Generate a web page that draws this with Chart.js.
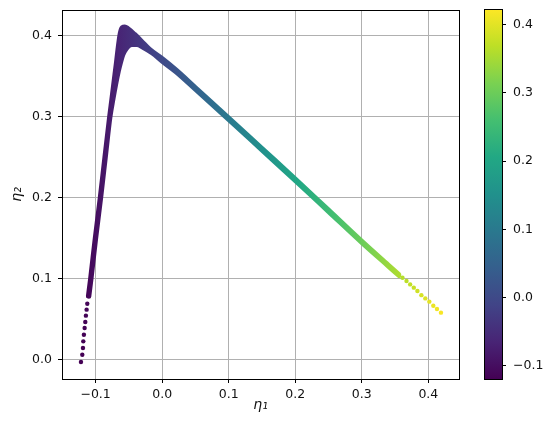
<!DOCTYPE html>
<html>
<head>
<meta charset="utf-8">
<script src="https://cdn.jsdelivr.net/npm/chart.js@4.4.1/dist/chart.umd.min.js"></script>
<style>
  html, body { margin: 0; padding: 0; background: #fff; }
  #wrap { position: relative; width: 555px; height: 433px; }
  #main { position: absolute; left: 0; top: 0; }
  #cbar { position: absolute; left: 484px; top: 0; }
</style>
</head>
<body>
<div id="wrap">
  <canvas id="main" width="555" height="433"></canvas>
  <canvas id="cbar" width="71" height="433"></canvas>
</div>
<script>
// tick labels
const xTicks = [-0.1, 0.0, 0.1, 0.2, 0.3, 0.4];
const yTicks = [0.0, 0.1, 0.2, 0.3, 0.4];
const cbTicks = [-0.1, 0.0, 0.1, 0.2, 0.3, 0.4];

// colour range of the colorbar (eta1)
const cbMin = -0.1195;
const cbMax = 0.423;

// outer edge of the dense point cloud (eta1, eta2)
const upperX = [-0.1113, -0.108, -0.101, -0.0935, -0.0865, -0.0794, -0.0760, -0.0725, -0.0690, -0.0658, -0.0632, -0.0602, -0.0560, -0.0515, -0.0415, -0.0315, -0.0190, 0.000, 0.021, 0.050, 0.100, 0.150, 0.200, 0.250, 0.300, 0.340, 0.356];
const upperY = [0.0785, 0.100, 0.150, 0.200, 0.250, 0.300, 0.322, 0.345, 0.368, 0.390, 0.404, 0.4105, 0.4115, 0.4095, 0.4025, 0.3945, 0.3840, 0.3725, 0.3584, 0.3367, 0.2993, 0.2616, 0.2240, 0.1855, 0.1470, 0.1174, 0.1056];

// inner edge of the dense point cloud
const lowerX = [-0.1098, -0.1065, -0.0995, -0.0920, -0.0850, -0.0780, -0.0735, -0.0695, -0.0655, -0.0622, -0.0588, -0.0535, -0.0460, -0.0380, -0.0290, -0.0150, 0.000, 0.021, 0.050, 0.100, 0.150, 0.200, 0.250, 0.300, 0.340, 0.356];
const lowerY = [0.0785, 0.100, 0.150, 0.200, 0.250, 0.300, 0.322, 0.340, 0.356, 0.367, 0.3765, 0.3845, 0.3890, 0.3892, 0.3858, 0.3787, 0.3685, 0.3552, 0.3337, 0.2965, 0.2588, 0.2212, 0.1829, 0.1446, 0.1154, 0.1038];

// single points where the cloud thins out at both ends
const dotX = [-0.1220, -0.1200, -0.1190, -0.1185, -0.1176, -0.1165, -0.1155, -0.1146, -0.1135, -0.1125, 0.3612, 0.3672, 0.3727, 0.3782, 0.3836, 0.3896, 0.3955, 0.4015, 0.4075, 0.4130, 0.4190];
const dotY = [-0.0025, 0.0065, 0.0148, 0.0230, 0.0312, 0.0395, 0.0469, 0.0547, 0.0621, 0.0695, 0.1016, 0.0975, 0.0933, 0.0893, 0.0852, 0.0800, 0.0760, 0.0720, 0.0670, 0.0630, 0.0584];

// viridis
const viridis = ['#440154', '#482475', '#414487', '#355f8d', '#2a788e', '#21918c', '#22a884', '#44bf70', '#7ad151', '#bddf26', '#fde725'];

const FONT = 'DejaVu Sans';
const fmt = v => (v < 0 ? '\u2212' : '') + Math.abs(v).toFixed(1);

function hexRgb(h) {
  return [parseInt(h.slice(1, 3), 16), parseInt(h.slice(3, 5), 16), parseInt(h.slice(5, 7), 16)];
}
function viridisAt(v) {
  let t = (v - cbMin) / (cbMax - cbMin);
  t = Math.max(0, Math.min(1, t)) * (viridis.length - 1);
  const i = Math.min(Math.floor(t), viridis.length - 2);
  const f = t - i;
  const a = hexRgb(viridis[i]), b = hexRgb(viridis[i + 1]);
  const c = a.map((x, k) => Math.round(x + (b[k] - x) * f));
  return 'rgb(' + c.join(',') + ')';
}
function viridisGradient(chart, axis) {
  if (!chart.chartArea || !chart.scales[axis]) return viridis[0];
  const s = chart.scales[axis];
  const p0 = s.getPixelForValue(cbMin), p1 = s.getPixelForValue(cbMax);
  const g = axis === 'x'
    ? chart.ctx.createLinearGradient(p0, 0, p1, 0)
    : chart.ctx.createLinearGradient(0, p0, 0, p1);
  viridis.forEach((c, i) => g.addColorStop(i / (viridis.length - 1), c));
  return g;
}

const toPts = (xs, ys) => xs.map((x, i) => ({x: x, y: ys[i]}));

// matplotlib-like frame on all four sides
const boxPlugin = {
  id: 'frame',
  afterDraw(chart) {
    const a = chart.chartArea, ctx = chart.ctx;
    const l = Math.round(a.left), r = Math.round(a.right), t = Math.round(a.top), b = Math.round(a.bottom);
    ctx.save();
    ctx.fillStyle = '#000';
    ctx.fillRect(l, t, r - l + 1, 1);
    ctx.fillRect(l, b, r - l + 1, 1);
    ctx.fillRect(l, t, 1, b - t + 1);
    ctx.fillRect(r, t, 1, b - t + 1);
    ctx.restore();
  }
};

const gridOpts = {color: '#b0b0b0', lineWidth: 1, tickColor: '#000', tickLength: 4, tickWidth: 1};
const tickFont = {family: FONT, size: 12.5};
const noPadV = s => { s.paddingTop = 0; s.paddingBottom = 0; };
const noPadH = s => { s.paddingLeft = 0; s.paddingRight = 0; };

new Chart(document.getElementById('main'), {
  type: 'line',
  data: {
    datasets: [
      {
        label: 'upper',
        data: toPts(upperX, upperY),
        borderColor: c => viridisGradient(c.chart, 'x'),
        borderWidth: 4.4,
        borderJoinStyle: 'round',
        borderCapStyle: 'round',
        cubicInterpolationMode: 'monotone',
        pointRadius: 0,
        fill: false
      },
      {
        label: 'lower',
        data: toPts(lowerX, lowerY),
        borderColor: c => viridisGradient(c.chart, 'x'),
        backgroundColor: c => viridisGradient(c.chart, 'x'),
        borderWidth: 4.4,
        borderJoinStyle: 'round',
        borderCapStyle: 'round',
        cubicInterpolationMode: 'monotone',
        pointRadius: 0,
        fill: '-1'
      },
      {
        label: 'dots',
        data: toPts(dotX, dotY),
        showLine: false,
        pointRadius: 2.2,
        pointBorderWidth: 0,
        pointBackgroundColor: c => viridisAt(c.raw ? c.raw.x : 0),
        pointBorderColor: c => viridisAt(c.raw ? c.raw.x : 0)
      }
    ]
  },
  options: {
    responsive: false,
    animation: false,
    events: [],
    layout: {padding: {left: 0, top: 10, right: 96, bottom: 0}},
    plugins: {legend: {display: false}, tooltip: {enabled: false}},
    scales: {
      x: {
        type: 'linear', min: -0.1505, max: 0.4461, z: 1,
        afterBuildTicks: s => { s.ticks = xTicks.map(v => ({value: v})); },
        afterFit: s => { s.height = 54; noPadH(s); },
        grid: gridOpts,
        border: {color: '#000', width: 1},
        ticks: {color: '#111', font: tickFont, padding: 4, maxRotation: 0, callback: v => fmt(v)},
        title: {display: true, text: 'η₁', color: '#111', font: {family: FONT, size: 14, style: 'italic'}, padding: {top: 0, bottom: 19}}
      },
      y: {
        type: 'linear', min: -0.0235, max: 0.4321, z: 1,
        afterBuildTicks: s => { s.ticks = yTicks.map(v => ({value: v})); },
        afterFit: s => { s.width = 62; noPadV(s); },
        grid: gridOpts,
        border: {color: '#000', width: 1},
        ticks: {color: '#111', font: tickFont, padding: 6, callback: v => fmt(v)},
        title: {display: true, text: 'η₂', color: '#111', font: {family: FONT, size: 14, style: 'italic'}, padding: {top: 9, bottom: 0}}
      }
    }
  },
  plugins: [boxPlugin]
});

// colorbar
new Chart(document.getElementById('cbar'), {
  type: 'bar',
  data: {
    labels: ['η₁'],
    datasets: [{
      data: [[cbMin, cbMax]],
      backgroundColor: c => viridisGradient(c.chart, 'y'),
      borderWidth: 0,
      barPercentage: 1,
      categoryPercentage: 1
    }]
  },
  options: {
    responsive: false,
    animation: false,
    events: [],
    layout: {padding: {left: 0, top: 9, right: 0, bottom: 54}},
    plugins: {legend: {display: false}, tooltip: {enabled: false}},
    scales: {
      x: {display: false},
      y: {
        position: 'right', min: cbMin, max: cbMax,
        afterBuildTicks: s => { s.ticks = cbTicks.map(v => ({value: v})); },
        afterFit: s => { s.width = 53; noPadV(s); },
        grid: {display: true, drawOnChartArea: false, tickColor: '#000', tickLength: 4, tickWidth: 1},
        border: {display: false},
        ticks: {color: '#111', font: tickFont, padding: 7, callback: v => fmt(v)}
      }
    }
  },
  plugins: [boxPlugin]
});
</script>
</body>
</html>
